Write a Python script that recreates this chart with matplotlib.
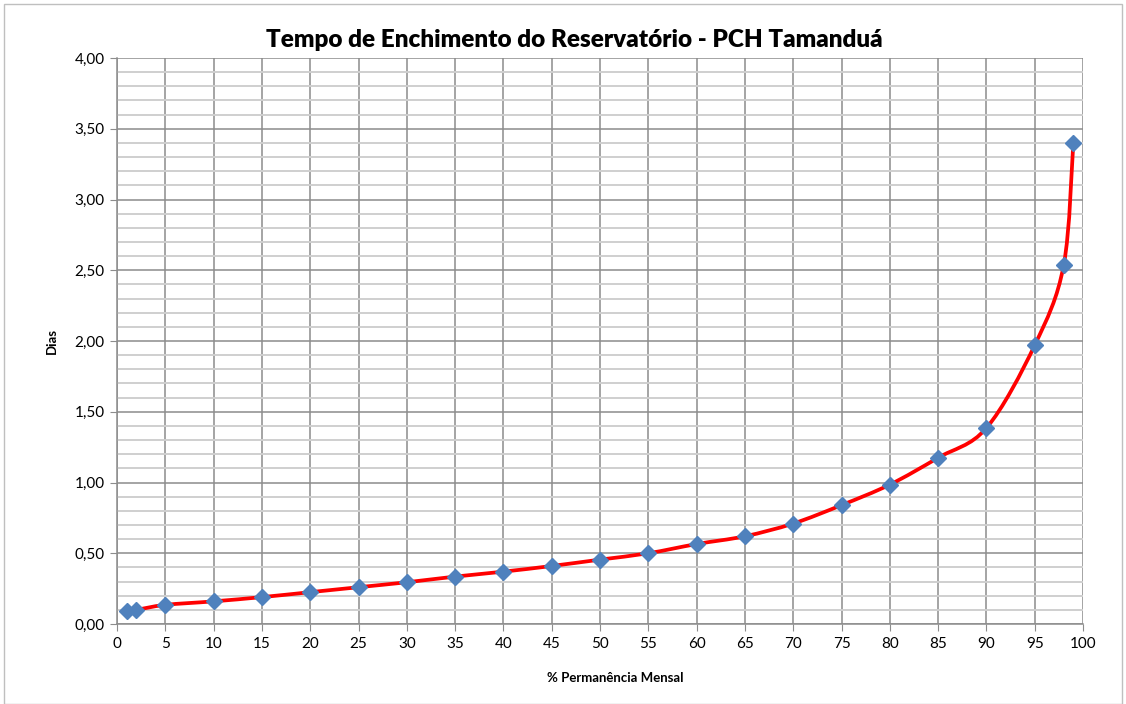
import matplotlib
matplotlib.use('Agg')
import matplotlib.pyplot as plt
import numpy as np
from matplotlib.path import Path
from matplotlib.patches import PathPatch, Rectangle
from matplotlib.ticker import MultipleLocator, FuncFormatter

# % permanência mensal vs dias de enchimento
permanencia = [1, 2, 5, 10, 15, 20, 25, 30, 35, 40, 45, 50, 55, 60, 65, 70, 75, 80, 85, 90, 95, 98, 99]
dias = [0.09, 0.10, 0.135, 0.16, 0.19, 0.225, 0.26, 0.295, 0.335, 0.37, 0.41, 0.455, 0.50,
        0.565, 0.62, 0.71, 0.84, 0.985, 1.175, 1.385, 1.97, 2.535, 3.40]

x_ticks = list(range(0, 101, 5))

plt.rcParams['font.family'] = ['Lato', 'DejaVu Sans']


def smooth_path(xs, ys):
    """Bezier path like the 'smoothed line' option of spreadsheet charts."""
    pts = np.column_stack([xs, ys]).astype(float)
    verts = [pts[0]]
    codes = [Path.MOVETO]
    n = len(pts)
    for i in range(n - 1):
        p0 = pts[i - 1] if i > 0 else pts[i]
        p1 = pts[i]
        p2 = pts[i + 1]
        p3 = pts[i + 2] if i + 2 < n else pts[i + 1]
        c1 = p1 + (p2 - p0) / 6.0
        c2 = p2 - (p3 - p1) / 6.0
        verts += [c1, c2, p2]
        codes += [Path.CURVE4] * 3
    return Path(verts, codes)


fig = plt.figure(figsize=(11.26, 7.04), dpi=100)
ax = fig.add_axes([117 / 1126, 1 - 624 / 704, (1083 - 117) / 1126, (624 - 58) / 704])

ax.set_xlim(0, 100)
ax.set_ylim(0, 4)
ax.set_xticks(x_ticks)
ax.yaxis.set_major_locator(MultipleLocator(0.5))
ax.yaxis.set_minor_locator(MultipleLocator(0.1))
ax.yaxis.set_major_formatter(FuncFormatter(lambda v, p: f'{v:.2f}'.replace('.', ',')))

ax.grid(True, which='major', axis='both', color='#8c8c8c', linewidth=1.1)
ax.grid(True, which='minor', axis='y', color='#cfcfcf', linewidth=1.4)
ax.set_axisbelow(True)

for s in ['top', 'right']:
    ax.spines[s].set_visible(False)
for s in ['left', 'bottom']:
    ax.spines[s].set_color('#8c8c8c')
    ax.spines[s].set_linewidth(1.1)

ax.tick_params(axis='both', which='major', length=5, color='#8c8c8c', labelsize=11, pad=4)
ax.tick_params(axis='y', which='minor', length=0)

patch = PathPatch(smooth_path(permanencia, dias), facecolor='none', edgecolor='#ff0000',
                  linewidth=2.7, zorder=3, capstyle='round')
ax.add_patch(patch)
ax.plot(permanencia, dias, linestyle='none', marker='D', markersize=8.5,
        color='#4f81bd', zorder=4, clip_on=False)

fig.text(574 / 1126, 1 - 40 / 704, 'Tempo de Enchimento do Reservatório - PCH Tamanduá',
         fontsize=17.5, fontweight='heavy', ha='center', va='center')
ax.set_xlabel('% Permanência Mensal', fontsize=9.5, fontweight='bold')
ax.xaxis.set_label_coords((615 - 117) / (1083 - 117), -0.085)
ax.set_ylabel('Dias', fontsize=9.5, fontweight='bold', labelpad=12)

fig.patches.append(Rectangle((4 / 1126, 0), 1 - 8 / 1126, 1 - 4 / 704, transform=fig.transFigure,
                             fill=False, edgecolor='#bfbfbf', linewidth=1))

fig.savefig('out.png', dpi=100)
